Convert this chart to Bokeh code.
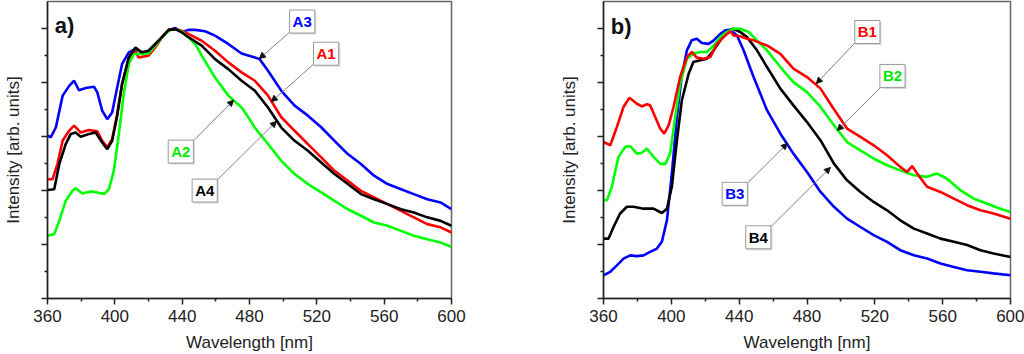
from bokeh.plotting import figure
from bokeh.layouts import row
from bokeh.models import FixedTicker, Range1d, Label, Arrow, NormalHead, CustomJSTickFormatter
from bokeh.embed import file_html
from bokeh.resources import INLINE

# ---------------- data: panel a ----------------
a3_x = [360, 362, 365, 369, 373, 375.8, 378.7, 382.7, 387.6, 389.6, 392.5, 395.5, 398.4, 401.4, 404.3, 408.3, 412.2, 416, 420, 424, 428, 432, 436, 439.8, 443.7, 447.7, 453.6, 459.5, 467.4, 475.3, 483.2, 486, 491, 498.9, 506.8, 514.7, 522.6, 530.5, 538.4, 546.2, 554, 562, 570, 577.6, 585.6, 593.5, 600]
a3_y = [0.602, 0.596, 0.633, 0.75, 0.787, 0.805, 0.77, 0.778, 0.783, 0.762, 0.694, 0.663, 0.688, 0.78, 0.867, 0.91, 0.922, 0.91, 0.91, 0.935, 0.966, 0.993, 1.0, 0.984, 0.993, 0.993, 0.988, 0.972, 0.941, 0.906, 0.891, 0.885, 0.842, 0.768, 0.713, 0.676, 0.633, 0.583, 0.534, 0.497, 0.454, 0.423, 0.404, 0.386, 0.367, 0.355, 0.33]

a1_x = [360, 363, 365.9, 369, 372.8, 375.8, 379.7, 384.6, 389.6, 392.5, 395.5, 398.4, 401.4, 404.3, 408.3, 412.2, 414, 420, 424, 428, 432, 436, 439.8, 443.7, 451.6, 459.5, 467.4, 475.3, 483.2, 491, 498.9, 506.8, 514.7, 522.6, 530.5, 538.4, 546.2, 554, 562, 570, 577.6, 585.6, 593.5, 600]
a1_y = [0.441, 0.441, 0.497, 0.583, 0.62, 0.639, 0.614, 0.623, 0.618, 0.583, 0.559, 0.589, 0.682, 0.793, 0.891, 0.916, 0.891, 0.898, 0.928, 0.966, 0.993, 0.996, 0.99, 0.978, 0.953, 0.916, 0.873, 0.836, 0.805, 0.75, 0.67, 0.62, 0.571, 0.522, 0.472, 0.435, 0.398, 0.374, 0.349, 0.324, 0.3, 0.275, 0.263, 0.244]

a4_x = [360, 364, 367, 370.8, 373.8, 376.7, 379.7, 384.6, 388.6, 392.5, 395.5, 398.4, 401.4, 404.3, 408.3, 412.2, 416, 420, 424, 428, 432, 436, 439.8, 443.7, 451.6, 459.5, 467.4, 475.3, 483.2, 491, 498.9, 506.8, 514.7, 522.6, 530.5, 538.4, 546.2, 554, 562, 570, 577.6, 585.6, 593.5, 600]
a4_y = [0.401, 0.404, 0.497, 0.571, 0.608, 0.614, 0.598, 0.608, 0.614, 0.577, 0.552, 0.583, 0.676, 0.793, 0.891, 0.928, 0.91, 0.916, 0.941, 0.966, 0.993, 0.996, 0.984, 0.966, 0.935, 0.885, 0.848, 0.805, 0.768, 0.706, 0.632, 0.583, 0.546, 0.503, 0.46, 0.423, 0.386, 0.367, 0.349, 0.33, 0.318, 0.3, 0.287, 0.269]

a2_x = [360, 364, 367, 370.8, 374.8, 376.7, 380.7, 385.6, 389.6, 393.5, 396.5, 399.4, 402.4, 405.3, 408.3, 411.2, 416, 420, 424, 428, 432, 436, 439.8, 443.7, 447.7, 451.6, 459.5, 467.4, 475.3, 478, 483, 491, 498.9, 506.8, 514.7, 522.6, 530.5, 538.4, 546.2, 554, 562, 570, 577.6, 585.6, 593.5, 600]
a2_y = [0.232, 0.238, 0.287, 0.361, 0.398, 0.408, 0.388, 0.396, 0.392, 0.386, 0.404, 0.472, 0.608, 0.756, 0.867, 0.904, 0.904, 0.906, 0.935, 0.966, 0.99, 0.996, 0.987, 0.966, 0.941, 0.898, 0.817, 0.75, 0.706, 0.682, 0.633, 0.571, 0.509, 0.46, 0.423, 0.392, 0.361, 0.33, 0.306, 0.281, 0.269, 0.25, 0.232, 0.219, 0.207, 0.191]

# ---------------- data: panel b ----------------
b1_x = [360, 364, 367.9, 371.8, 375.3, 379.7, 382.6, 385.6, 387.5, 390.5, 393.4, 395.8, 398.4, 401.3, 405.2, 409.2, 412.1, 415, 419, 423, 426.9, 430.8, 434.8, 436.7, 440.7, 444.6, 448.5, 456.4, 464.3, 472, 480, 488, 495, 503.6, 511.5, 519.3, 527.2, 535, 539, 542, 545, 550.8, 558.7, 566.6, 574.4, 582.3, 590, 600]
b1_y = [0.58, 0.568, 0.636, 0.71, 0.744, 0.722, 0.712, 0.72, 0.716, 0.673, 0.63, 0.611, 0.642, 0.71, 0.821, 0.895, 0.914, 0.893, 0.889, 0.895, 0.944, 0.969, 0.991, 0.975, 0.972, 0.963, 0.957, 0.938, 0.907, 0.852, 0.821, 0.778, 0.71, 0.63, 0.599, 0.568, 0.531, 0.488, 0.469, 0.491, 0.463, 0.414, 0.395, 0.37, 0.346, 0.327, 0.315, 0.296]

b2_x = [360, 362, 364.9, 368.8, 372.8, 375.7, 379.7, 382.6, 385.6, 389.5, 393.4, 396.4, 399.3, 402.3, 405.2, 409.2, 413, 417, 421, 425, 428.9, 432.8, 436.7, 440.7, 445.6, 450.5, 456.4, 464.3, 472, 480, 488, 495.9, 503.6, 511.5, 519.3, 527.2, 535, 543, 550.8, 556.7, 562.6, 570.5, 578.4, 586, 594, 600]
b2_y = [0.364, 0.364, 0.414, 0.525, 0.562, 0.565, 0.537, 0.54, 0.556, 0.525, 0.5, 0.498, 0.537, 0.673, 0.796, 0.889, 0.907, 0.914, 0.914, 0.938, 0.969, 0.988, 1.0, 1.0, 0.988, 0.957, 0.92, 0.858, 0.802, 0.765, 0.71, 0.642, 0.58, 0.549, 0.519, 0.494, 0.475, 0.457, 0.451, 0.463, 0.444, 0.401, 0.37, 0.352, 0.333, 0.321]

b4_x = [360, 363, 365.9, 369.8, 373.8, 377.7, 383.6, 389.5, 394.4, 397.4, 400.3, 403.3, 406.2, 410.2, 413, 417, 421, 425, 428.9, 432.8, 436.3, 440.7, 444.6, 450.5, 456.4, 464.3, 472, 480, 488, 495.9, 503.6, 511.5, 519.3, 527.2, 535, 543, 550.8, 558.7, 566.6, 574.4, 582.3, 590, 600]
b4_y = [0.222, 0.222, 0.265, 0.315, 0.34, 0.34, 0.333, 0.333, 0.317, 0.333, 0.414, 0.586, 0.735, 0.833, 0.877, 0.883, 0.889, 0.92, 0.957, 0.988, 1.0, 0.988, 0.969, 0.92, 0.858, 0.778, 0.716, 0.654, 0.586, 0.5, 0.438, 0.395, 0.358, 0.327, 0.29, 0.259, 0.241, 0.222, 0.21, 0.198, 0.179, 0.167, 0.154]

b3_x = [360, 364, 367.9, 371.8, 375.7, 379.7, 383.6, 387.5, 391.5, 394.4, 397.4, 400.3, 403.3, 406.2, 409.2, 412, 415, 418, 422, 425, 428.9, 431.8, 434.8, 438.7, 442.6, 448.5, 456.4, 464.3, 472, 480, 488, 495.9, 503.6, 511.5, 519.3, 527.2, 535, 543, 550.8, 558.7, 566.6, 574.4, 582.3, 590, 600]
b3_y = [0.086, 0.099, 0.123, 0.148, 0.16, 0.157, 0.16, 0.173, 0.185, 0.21, 0.29, 0.463, 0.673, 0.827, 0.92, 0.957, 0.963, 0.947, 0.944, 0.957, 0.981, 0.994, 0.996, 0.975, 0.92, 0.821, 0.698, 0.611, 0.537, 0.469, 0.395, 0.34, 0.296, 0.265, 0.235, 0.21, 0.179, 0.16, 0.148, 0.13, 0.117, 0.105, 0.099, 0.093, 0.086]

# tick values
x_major = [360, 400, 440, 480, 520, 560, 600]
x_minor = [380, 420, 460, 500, 540, 580]
y_major = [0.0, 0.2, 0.4, 0.6, 0.8, 1.0]
y_minor = [0.1, 0.3, 0.5, 0.7, 0.9]

# curve labels: name, colour, label centre (x, y), arrow tail (x, y), arrow head (x, y)
labels_a = [
    ("A3", "#0000ff", 511.3, 1.024, 503.6, 0.983, 485.9, 0.887),
    ("A1", "#ff0000", 525.5, 0.905, 518.4, 0.868, 493.0, 0.728),
    ("A2", "#00e600", 439.2, 0.543, 446.9, 0.584, 470.5, 0.733),
    ("A4", "#000000", 453.4, 0.399, 460.5, 0.436, 496.0, 0.655),
]
labels_b = [
    ("B1", "#ff0000", 515.6, 0.988, 508.5, 0.949, 485.5, 0.797),
    ("B2", "#00e600", 530.4, 0.825, 523.9, 0.786, 497.9, 0.623),
    ("B3", "#0000ff", 437.4, 0.388, 444.8, 0.427, 468.4, 0.575),
    ("B4", "#000000", 451.3, 0.227, 458.4, 0.264, 493.8, 0.486),
]

FONT = "Liberation Sans"


def make_panel(tag, series, labels, left, right, ytop):
    p = figure(width=512, height=354, output_backend="svg", toolbar_location=None,
               x_range=Range1d(360, 600), y_range=Range1d(0, ytop),
               min_border_left=left, min_border_right=right,
               min_border_top=1, min_border_bottom=56)
    p.grid.visible = False
    p.outline_line_color = "#666666"
    p.outline_line_width = 1.5
    p.background_fill_color = "white"
    p.border_fill_color = "white"

    p.xaxis.ticker = FixedTicker(ticks=x_major, minor_ticks=x_minor)
    p.yaxis.ticker = FixedTicker(ticks=y_major, minor_ticks=y_minor)
    for ax in (p.xaxis[0], p.yaxis[0]):
        ax.axis_line_color = "#222222"
        ax.axis_line_width = 1.5
        ax.major_tick_line_color = "#222222"
        ax.minor_tick_line_color = "#222222"
        ax.major_tick_line_width = 1.5
        ax.minor_tick_line_width = 1.5
        ax.major_tick_in = 0
        ax.major_tick_out = 6
        ax.minor_tick_in = 0
        ax.minor_tick_out = 3
        ax.axis_label_text_font = FONT
        ax.axis_label_text_font_style = "normal"
        ax.axis_label_text_font_size = "17px"
        ax.axis_label_text_color = "#222222"
        ax.major_label_text_font = FONT
        ax.major_label_text_font_size = "17px"
        ax.major_label_text_color = "#222222"
    p.xaxis.axis_label = "Wavelength [nm]"
    p.xaxis.major_label_standoff = 5
    p.xaxis.axis_label_standoff = 8
    p.yaxis.axis_label = "Intensity [arb. units]"
    p.yaxis.formatter = CustomJSTickFormatter(code="return ''")
    p.yaxis.major_label_text_color = None
    p.yaxis.major_label_standoff = 0
    p.yaxis.axis_label_standoff = 19

    for xs, ys, col in series:
        p.line(xs, ys, line_color=col, line_width=2.6)

    p.add_layout(Label(x=364.3, y=1.01, text=tag, text_font=FONT, text_font_style="bold",
                       text_font_size="22px", text_color="#111111",
                       text_align="left", text_baseline="middle"))

    for name, col, lx, ly, tx, ty, hx, hy in labels:
        p.add_layout(Arrow(x_start=tx, y_start=ty, x_end=hx, y_end=hy,
                           line_color="#808080", line_width=1,
                           end=NormalHead(size=6, fill_color="#111111",
                                          line_color="#111111", line_width=1)))
        # soft shadow
        p.add_layout(Label(x=lx, y=ly, text=name, x_offset=1.5, y_offset=-1.5,
                           text_font=FONT, text_font_style="bold", text_font_size="15px",
                           text_color="#d8d8d8", text_align="center", text_baseline="middle",
                           background_fill_color="#d8d8d8", padding=3))
        p.add_layout(Label(x=lx, y=ly, text=name, text_font=FONT, text_font_style="bold",
                           text_font_size="15px", text_color=col,
                           text_align="center", text_baseline="middle",
                           background_fill_color="white", border_line_color="#999999",
                           border_line_width=1, padding=3))
    return p


pa = make_panel("a)", [(a3_x, a3_y, "#0000ff"), (a1_x, a1_y, "#ff0000"),
                       (a2_x, a2_y, "#00ff00"), (a4_x, a4_y, "#000000")],
                labels_a, 45, 61, 1.098)
pb = make_panel("b)", [(b3_x, b3_y, "#0000ff"), (b4_x, b4_y, "#000000"),
                       (b2_x, b2_y, "#00ff00"), (b1_x, b1_y, "#ff0000")],
                labels_b, 91, 14, 1.101)

layout = row(pa, pb)
open("out.html", "w").write(file_html(layout, INLINE))
